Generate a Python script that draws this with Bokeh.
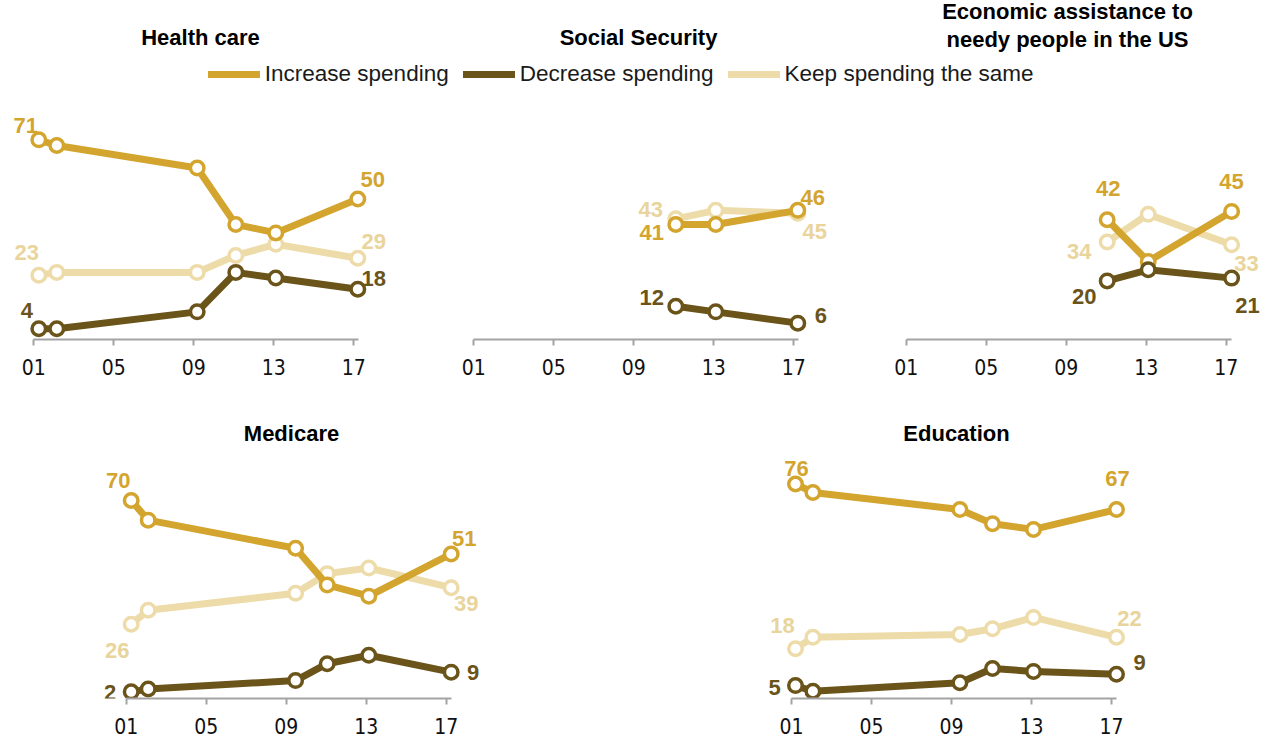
from bokeh.plotting import figure
from bokeh.models import (Range1d, FixedTicker, Legend, LegendItem, Label,
                          ColumnDataSource, Spacer)
from bokeh.layouts import column, row
from bokeh.embed import file_html
from bokeh.resources import INLINE
from bokeh.core.properties import value

# ---------------- data ----------------
series_names = ["Increase spending", "Decrease spending", "Keep spending the same"]

tick_years = [2001, 2005, 2009, 2013, 2017]
tick_labels = ["01", "05", "09", "13", "17"]

hc_years = [2001.25, 2002.15, 2009.17, 2011.1, 2013.1, 2017.2]
hc_increase = [71, 69, 61, 41, 38, 50]
hc_decrease = [4, 4, 10, 24, 22, 18]
hc_same = [23, 24, 24, 30, 34, 29]

ss_years = [2011.1, 2013.1, 2017.2]
ss_increase = [41, 41, 46]
ss_decrease = [12, 10, 6]
ss_same = [43, 46, 45]

ea_years = [2011.05, 2013.1, 2017.27]
ea_increase = [42, 27, 45]
ea_decrease = [20, 24, 21]
ea_same = [34, 44, 33]

mc_years = [2001.25, 2002.1, 2009.47, 2011.05, 2013.13, 2017.25]
mc_increase = [70, 63, 53, 40, 36, 51]
mc_decrease = [2, 3, 6, 12, 15, 9]
mc_same = [26, 31, 37, 44, 46, 39]

ed_years = [2001.2, 2002.07, 2009.42, 2011.05, 2013.1, 2017.25]
ed_increase = [76, 73, 67, 62, 60, 67]
ed_decrease = [5, 3, 6, 11, 10, 9]
ed_same = [18, 22, 23, 25, 29, 22]

titles = ["Health care", "Social Security",
          "Economic assistance to\nneedy people in the US",
          "Medicare", "Education"]

# ---------------- styles ----------------
C_INC = "#D3A52E"
C_DEC = "#6A541A"
C_SAME = "#EDDCA9"
C_SAME_TXT = "#E9D49C"
AXIS_C = "#A3A3A3"
LABEL_FONT = "Liberation Sans"
TICK_FONT = "DejaVu Sans Condensed"

# label offsets (screen px) for first / last point of each series
OFF = {
    "hc": {"inc": [(-13, -14), (15, -20)], "same": [(-12, -23), (16, -17)], "dec": [(-12, -18), (16, -11)]},
    "ss": {"inc": [(-24, 8), (15, -13)], "same": [(-25, -9), (17, 18)], "dec": [(-24, -9), (23, -8)]},
    "ea": {"inc": [(1, -31), (0, -30)], "same": [(-28, 10), (15, 19)], "dec": [(-23, 16), (16, 27)]},
    "mc": {"inc": [(-13, -20), (13, -15)], "same": [(-14, 26), (15, 16)], "dec": [(-21, 1), (22, 0)]},
    "ed": {"inc": [(1, -15), (1, -31)], "same": [(-13, -23), (13, -19)], "dec": [(-21, 2), (23, -12)]},
}


def make_panel(key, years, inc, dec, same, width, height, x_start, y_start, y_end,
               mb_top, mb_bottom, title=None):
    x_end = x_start + width / 20.0
    p = figure(width=width, height=height, output_backend="svg",
               toolbar_location=None, x_range=Range1d(x_start, x_end),
               y_range=Range1d(y_start, y_end), y_axis_location=None,
               min_border_left=0, min_border_right=0,
               min_border_top=mb_top, min_border_bottom=mb_bottom,
               outline_line_color=None, title=title)
    p.grid.visible = False
    if title:
        p.title.align = "center"
        p.title.text_font = LABEL_FONT
        p.title.text_font_style = "bold"
        p.title.text_font_size = "22px"
        p.title.text_color = "#000000"
        p.title.standoff = 8
    ax = p.xaxis[0]
    ax.ticker = FixedTicker(ticks=tick_years)
    ax.major_label_overrides = {y: l for y, l in zip(tick_years, tick_labels)}
    ax.bounds = (2001, 2017.25)
    ax.minor_tick_line_color = None
    ax.major_tick_in = 0
    ax.major_tick_out = 6
    ax.axis_line_color = AXIS_C
    ax.axis_line_width = 2
    ax.major_tick_line_color = AXIS_C
    ax.major_tick_line_width = 2
    ax.major_label_text_font = TICK_FONT
    ax.major_label_text_font_size = "21px"
    ax.major_label_text_color = "#111111"
    ax.major_label_standoff = 13

    series = [("same", same, C_SAME, C_SAME_TXT), ("inc", inc, C_INC, C_INC),
              ("dec", dec, C_DEC, C_DEC)]
    lx, ly, lt, ldx, ldy, lc = [], [], [], [], [], []
    for name, vals, col, tcol in series:
        p.line(years, vals, line_color=col, line_width=7, line_join="round")
        p.scatter(years, vals, size=13.5, fill_color="white", line_color=col,
                  line_width=3.5)
        for idx, (dx, dy) in zip([0, len(vals) - 1], OFF[key][name]):
            lx.append(years[idx]); ly.append(vals[idx]); lt.append(str(vals[idx]))
            ldx.append(dx); ldy.append(dy); lc.append(tcol)
    src = ColumnDataSource(dict(x=lx, y=ly, text=lt, dx=ldx, dy=ldy, c=lc))
    p.text(x="x", y="y", text="text", x_offset="dx", y_offset="dy",
           text_color="c", text_font=value(LABEL_FONT), text_font_style="bold",
           text_font_size="22px", text_align="center", text_baseline="middle",
           source=src)
    return p


# ---------------- header (titles + legend) ----------------
W = 1272
HDR_H = 87
hdr = figure(width=W, height=HDR_H, output_backend="svg", toolbar_location=None,
             x_range=Range1d(0, W), y_range=Range1d(HDR_H, 0),
             x_axis_location=None, y_axis_location=None, min_border=0,
             outline_line_color=None)
hdr.grid.visible = False

ea_lines = titles[2].split("\n")
title_specs = [(200, 37.2, titles[0]), (638, 37.2, titles[1]),
               (1067, 10.5, ea_lines[0]), (1067, 39.3, ea_lines[1])]
for x, y, t in title_specs:
    hdr.add_layout(Label(x=x, y=y, text=t, text_align="center",
                         text_baseline="middle", text_font=LABEL_FONT,
                         text_font_style="bold", text_font_size="22px",
                         text_color="#000000"))

nan = float("nan")
rends = []
for col in [C_INC, C_DEC, C_SAME]:
    rends.append(hdr.line([nan], [nan], line_color=col, line_width=7, line_cap="round"))
legend = Legend(items=[LegendItem(label=n, renderers=[r]) for n, r in zip(series_names, rends)],
                orientation="horizontal", location=(207.8, 0.5),
                glyph_width=52, glyph_height=26, label_height=26,
                label_standoff=5, spacing=14, padding=0, margin=0,
                border_line_color=None, background_fill_alpha=0,
                label_text_font=LABEL_FONT, label_text_font_size="22.5px",
                label_text_color="#1a1a1a")
hdr.add_layout(legend)

# ---------------- panels ----------------
TOP_H = 296
p1 = make_panel("hc", hc_years, hc_increase, hc_decrease, hc_same,
                430, TOP_H, 1999.335, 0.2, 89.56, 0, 44)
p2 = make_panel("ss", ss_years, ss_increase, ss_decrease, ss_same,
                430, TOP_H, 1998.835, 0.2, 89.56, 0, 44)
p3 = make_panel("ea", ea_years, ea_increase, ea_decrease, ea_same,
                412, TOP_H, 1998.715, -1.08, 89.57, 0, 44)

BOT_H = 359
p4 = make_panel("mc", mc_years, mc_increase, mc_decrease, mc_same,
                582, BOT_H, 1994.715, -0.36, 88.1, 66, 44, title=titles[3])
p5 = make_panel("ed", ed_years, ed_increase, ed_decrease, ed_same,
                632, BOT_H, 1993.45, 0.46, 88.14, 66, 44, title=titles[4])

layout = column(hdr, row(p1, p2, p3), row(p4, Spacer(width=58, height=BOT_H), p5))

open("out.html", "w").write(file_html(layout, INLINE))
